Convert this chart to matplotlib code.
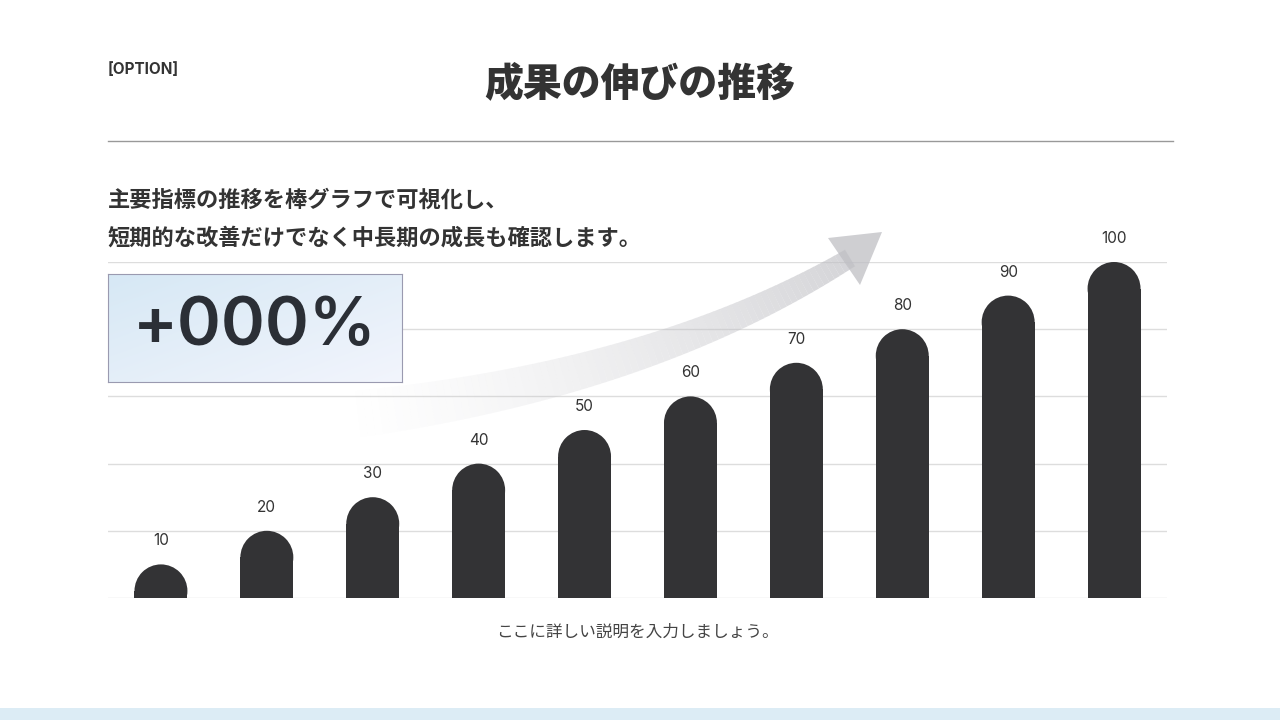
import numpy as np
import matplotlib.pyplot as plt
from matplotlib.patches import Ellipse, Polygon, Rectangle
from matplotlib.collections import LineCollection

plt.rcParams['font.family'] = ['Noto Sans CJK JP', 'DejaVu Sans']

positions = np.arange(10)
values = [10, 20, 30, 40, 50, 60, 70, 80, 90, 100]
labels = [str(v) for v in values]

W, H = 1280, 720
fig = plt.figure(figsize=(12.8, 7.2), dpi=100)
fig.patch.set_facecolor('white')

def fx(x):
    return x / W

def fy(y):
    return 1 - y / H

# header
fig.text(fx(108), fy(70), '[OPTION]', fontsize=11, fontweight='bold', color='#333333', va='center',
         family=['Inter', 'DejaVu Sans'])
fig.text(fx(640), fy(83), '成果の伸びの推移', fontsize=28, fontweight='heavy', color='#333333',
         ha='center', va='center')
fig.add_artist(plt.Line2D([fx(108), fx(1173)], [fy(141), fy(141)], color='#999999', lw=1))
fig.text(fx(108), fy(200), '主要指標の推移を棒グラフで可視化し、', fontsize=16, fontweight='bold',
         color='#333333', va='center')
fig.text(fx(108), fy(238), '短期的な改善だけでなく中長期の成長も確認します。', fontsize=16,
         fontweight='bold', color='#333333', va='center')

# bottom strip
fig.add_artist(Rectangle((0, 0), 1, 12 / H, transform=fig.transFigure, color='#dcecf5', lw=0))

# chart
ax = fig.add_axes([fx(108), fy(598), fx(1167 - 108), (598 - 262) / H])
ax.set_xlim(-0.5, 9.5)
ax.set_ylim(0, 100)
for s in ax.spines.values():
    s.set_visible(False)
ax.set_xticks([])
ax.set_yticks([])
for g in range(0, 101, 20):
    ax.axhline(g, color='#dddddd', lw=1, zorder=0)

bw = 0.5
ry = 7.9
bar_color = '#333335'
for x, v, lab in zip(positions, values, labels):
    ax.bar(x, v - ry, width=bw, color=bar_color, lw=0, zorder=3)
    ax.add_patch(Ellipse((x, v - ry), bw, 2 * ry, facecolor=bar_color, lw=0, zorder=3))
    ax.text(x, v + 7, lab, ha='center', va='center', fontsize=11, color='#333333',
            family=['Inter', 'DejaVu Sans'])

# curved arrow (decorative)
t = np.linspace(0, 1, 80)
p0, p1, p2 = np.array([350, 415]), np.array([650, 380]), np.array([850, 258])
pts = ((1 - t) ** 2)[:, None] * p0 + (2 * (1 - t) * t)[:, None] * p1 + (t ** 2)[:, None] * p2
fp = np.column_stack([fx(pts[:, 0]), fy(pts[:, 1])])
segs = [fp[i:i + 2] for i in range(len(fp) - 1)]
alphas = np.linspace(0.0, 0.7, len(segs)) ** 1.2
widths = np.linspace(34, 14, len(segs))
cols = [(0.75, 0.75, 0.77, a) for a in alphas]
fig.add_artist(LineCollection(segs, colors=cols, linewidths=widths, transform=fig.transFigure,
                              capstyle='butt'))
head = [(828, 238), (882, 232), (860, 285)]
fig.add_artist(Polygon([(fx(a), fy(b)) for a, b in head], closed=True, transform=fig.transFigure,
                       color=(0.75, 0.75, 0.77, 0.75), lw=0))

# gradient box
bax = fig.add_axes([fx(108), fy(382), fx(402 - 108), (382 - 274) / H])
gx, gy = np.meshgrid(np.linspace(0, 1, 200), np.linspace(0, 1, 100))
c1, c2 = np.array([0.84, 0.91, 0.96]), np.array([0.95, 0.96, 0.99])
mix = np.clip((gx + gy) / 2, 0, 1)[..., None]
bax.imshow(c1 * (1 - mix) + c2 * mix, aspect='auto', extent=(0, 1, 0, 1))
bax.set_xticks([])
bax.set_yticks([])
for s in bax.spines.values():
    s.set_color('#9a9ab0')
bax.text(0.5, 0.5, '+000%', ha='center', va='center', fontsize=48, fontweight='semibold',
         color='#2b2f36', family=['Inter', 'DejaVu Sans'])

fig.text(fx(637), fy(632), 'ここに詳しい説明を入力しましょう。', fontsize=12, color='#444444',
         ha='center', va='center')

fig.savefig('out.png', dpi=100)
